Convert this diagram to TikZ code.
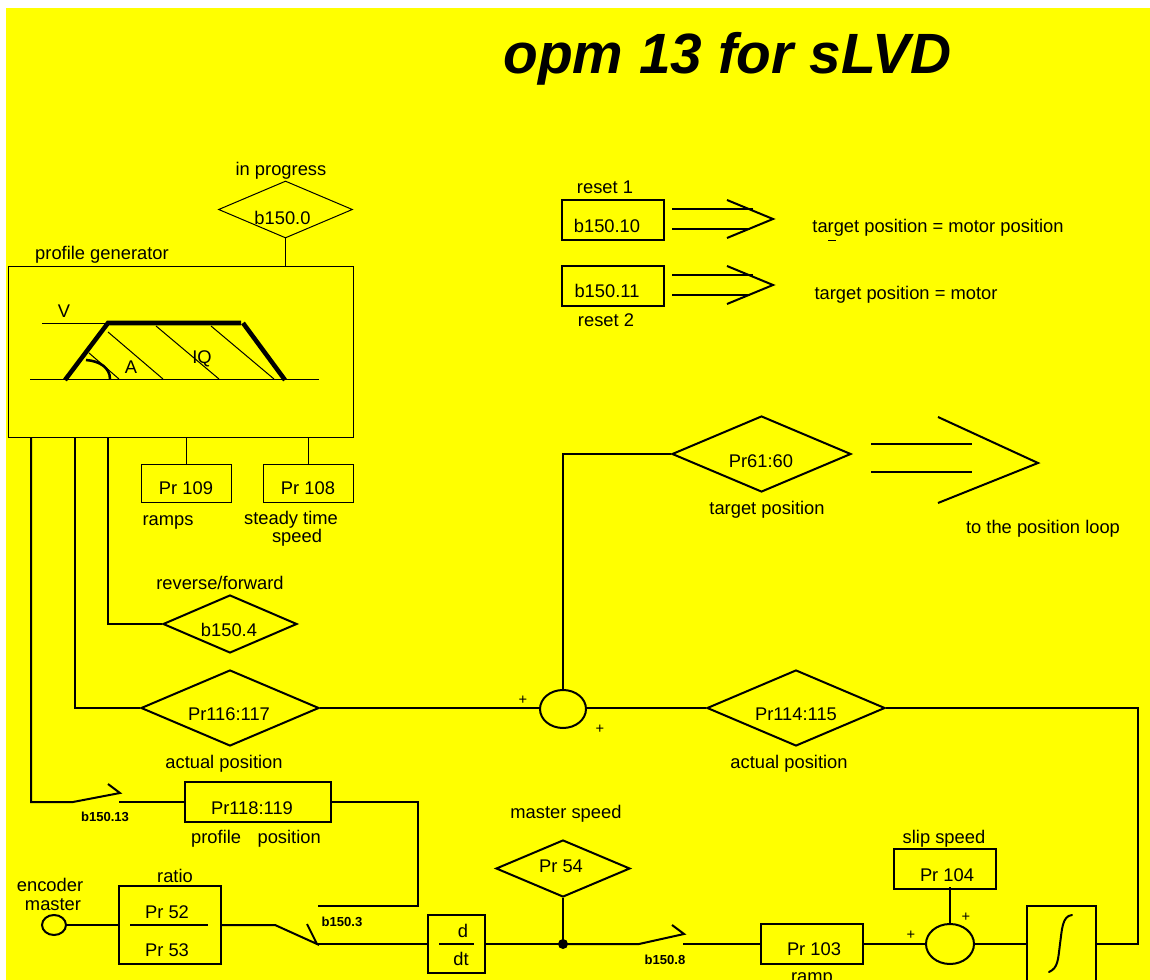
\documentclass[tikz,border=0pt]{standalone}
\usepackage{fontspec}
\setmainfont{Liberation Sans}
\usetikzlibrary{shapes.geometric}
\definecolor{bg}{RGB}{255,255,0}
\tikzset{
  thinln/.style={line width=0.75pt},
  ln/.style={line width=1.5pt},
  heavy/.style={line width=3.4pt},
  lbl/.style={inner sep=0pt,font=\fontsize{13.75}{16}\selectfont,text height=10.1pt,text depth=0pt,anchor=center},
  tiny/.style={inner sep=0pt,font=\fontsize{9.8}{11}\selectfont\bfseries,text height=5.8pt,text depth=0pt,anchor=center},
  plus/.style={inner sep=0pt,font=\fontsize{11}{12}\selectfont},
  bx/.style={draw,rectangle,inner sep=0pt,ln},
  tbx/.style={draw,rectangle,inner sep=0pt,thinln},
  dm/.style={draw,diamond,inner sep=0pt,ln},
  tdm/.style={draw,diamond,inner sep=0pt,thinln},
  sum/.style={draw,ellipse,inner sep=0pt,ln},
}
\begin{document}
\begin{tikzpicture}[x=0.75pt,y=-0.75pt,line join=miter]
\useasboundingbox (0,0) rectangle (1150,980);
\fill[bg] (6,8) rectangle (1150,980);
\begin{scope}
\clip (0,0) rectangle (1150,980);

% title
\node[inner sep=0pt,anchor=base,font=\fontsize{42.6}{46}\selectfont\bfseries\itshape] (title) at (727.5,74) {opm 13 for sLVD};

% profile generator
\node[tdm,minimum width=134pt*0.75,minimum height=57pt*0.75] (d0) at (285.5,209.5) {};
\node[lbl] (t0) at (281,169) {in progress};
\node[lbl] (t0b) at (282.5,218) {b150.0};
\node[tbx,minimum width=345pt*0.75,minimum height=171pt*0.75] (pg) at (181,352) {};
\node[lbl] (tpg) at (102,253) {profile generator};
\draw[thinln] (d0.south) -- (d0.south |- pg.north);

\coordinate (vl) at (42,323.5);
\coordinate (tl) at (108,323);
\coordinate (tr) at (241,323);
\coordinate (tr2) at (243,323);
\coordinate (bl) at (65,380);
\coordinate (br) at (285,380);
\coordinate (b0) at (30,379.5);
\coordinate (b1) at (319,379.5);
\draw[thinln] (vl) -- (tl |- vl);
\draw[thinln] (b0) -- (b1);
\draw[thinln] (89,353) -- (119,379);
\draw[thinln] (108,332) -- (163,379);
\draw[thinln] (156,326) -- (219,379);
\draw[thinln] (211,326) -- (274,379);
\draw[heavy] (bl) -- (tl) -- (tr);
\draw[heavy] (tr2) -- (br);
\draw[line width=1.9pt] (86,360) .. controls (100,361) and (110,368) .. (110,379);
\node[lbl] (tv) at (64,311) {V};
\node[lbl] (ta) at (131,367) {A};
\node[lbl] (tiq) at (202,357) {IQ};

% params below generator
\node[tbx,minimum width=90pt*0.75,minimum height=38pt*0.75] (p109) at (186.5,483.5) {};
\node[tbx,minimum width=90pt*0.75,minimum height=38pt*0.75] (p108) at (308.5,483.5) {};
\draw[thinln] (pg.south -| p109.north) -- (p109.north);
\draw[thinln] (pg.south -| p108.north) -- (p108.north);
\node[lbl] at (186,488) {Pr 109};
\node[lbl] at (308,488) {Pr 108};
\node[lbl] at (168,519) {ramps};
\node[lbl] at (291,518) {steady time};
\node[lbl] at (297,536) {speed};

% reverse/forward
\node[dm,minimum width=134pt*0.75,minimum height=58pt*0.75] (d4) at (230,624) {};
\node[lbl] at (229,630) {b150.4};
\node[lbl] at (220,583) {reverse/forward};
\draw[ln] (d4.west -| 108,0) coordinate (x108) (x108 |- pg.south) -- (x108) -- (d4.west);

% actual positions
\node[dm,minimum width=178pt*0.75,minimum height=76pt*0.75] (d116) at (230,708) {};
\node[lbl] at (229,714) {Pr116:117};
\node[lbl] at (224,762) {actual position};
\draw[ln] (75,0 |- pg.south) -- (75,708) coordinate (x75) -- (d116.west);
\node[dm,minimum width=178pt*0.75,minimum height=76pt*0.75] (d114) at (796,708) {};
\node[lbl] at (796,714) {Pr114:115};
\node[lbl] at (789,762) {actual position};
\node[sum,minimum width=46pt*0.75,minimum height=38pt*0.75] (s1) at (563,709) {};
\node[plus] at (523,700) {+};
\node[plus] at (600,729) {+};
\draw[ln] (d116.east) -- (s1.west |- d116.east);
\draw[ln] (s1.east |- d114.west) -- (d114.west);

% target position
\node[dm,minimum width=179pt*0.75,minimum height=76pt*0.75] (d61) at (761.5,454) {};
\node[lbl] at (761,461) {Pr61:60};
\node[lbl] at (767,508) {target position};
\node[lbl] at (1043,527) {to the position loop};
\draw[ln] (s1.north) -- (s1.north |- d61.west) -- (d61.west);
\draw[ln] (871,444) -- (972,444);
\draw[ln] (871,472) -- (972,472);
\draw[ln] (938,417) -- (1038,463) -- (938,503);

% resets
\node[bx,minimum width=102pt*0.75,minimum height=40pt*0.75] (r1) at (613,220) {};
\node[lbl] at (607,226) {b150.10};
\node[lbl] at (605,187) {reset 1};
\node[lbl] at (938,226) {target position = motor position};
\draw[ln] (672,209) -- (753,209);
\draw[ln] (672,229) -- (750,229);
\draw[ln] (727,200) -- (773,219) -- (727,238);
\draw[thinln] (828,241) -- (836,241);
\node[bx,minimum width=102pt*0.75,minimum height=40pt*0.75] (r2) at (613,286) {};
\node[lbl] at (607,291) {b150.11};
\node[lbl] at (606,320) {reset 2};
\node[lbl] at (906,293) {target position = motor};
\draw[ln] (672,275) -- (753,275);
\draw[ln] (672,295) -- (750,295);
\draw[ln] (727,266) -- (773,285) -- (727,304);

% profile position
\node[bx,minimum width=146pt*0.75,minimum height=40pt*0.75] (p118) at (258,802) {};
\node[lbl] at (252,808) {Pr118:119};
\node[lbl] at (256,837) {profile\hspace{0.9em}position};
\node[tiny] at (105,818) {b150.13};
\coordinate (sw1a) at (73,802);
\coordinate (sw1b) at (120,793);
\coordinate (sw1c) at (108,784);
\coordinate (sw1d) at (119,802);
\draw[ln] (31,0 |- pg.south) -- (31,802) -- (sw1a) -- (sw1b) -- (sw1c);
\draw[ln] (sw1d) -- (p118.west);
\coordinate (sw2top) at (318,906);
\draw[ln] (p118.east) -- (418,802) -- (418,906) -- (sw2top);
\node[tiny] at (342,923) {b150.3};

% encoder / ratio
\node[lbl] at (50,885) {encoder};
\node[lbl] at (53,904) {master};
\node[draw,ellipse,inner sep=0pt,ln,minimum width=24pt*0.75,minimum height=20pt*0.75] (enc) at (54,925) {};
\node[bx,minimum width=102pt*0.75,minimum height=78pt*0.75] (ratio) at (170,925) {};
\node[lbl] at (175,876) {ratio};
\node[lbl] at (167,912) {Pr 52};
\node[lbl] at (167,950) {Pr 53};
\draw[ln] (130,925) -- (208,925);
\draw[ln] (enc.east) -- (ratio.west);
\coordinate (sw2a) at (275,925);
\coordinate (sw2b) at (317,944);
\coordinate (sw2c) at (307,924);
\draw[ln] (ratio.east) -- (sw2a) -- (sw2b) -- (sw2c);

% d/dt
\node[bx,minimum width=57pt*0.75,minimum height=58pt*0.75] (ddt) at (456.5,944) {};
\node[lbl] at (463,931) {d};
\node[lbl] at (461,959) {dt};
\draw[ln] (439,944) -- (474,944);
\draw[ln] (sw2b) -- (ddt.west);

% master speed
\node[dm,minimum width=134pt*0.75,minimum height=57pt*0.75] (d54) at (563,868.5) {};
\node[lbl] at (561,866) {Pr 54};
\node[lbl] at (566,812) {master speed};
\coordinate (dot) at (563,944);
\coordinate (sw3a) at (639,944);
\coordinate (sw3b) at (684,934);
\coordinate (sw3c) at (672,925);
\coordinate (sw3d) at (683,944);
\draw[ln] (ddt.east |- dot) -- (dot);
\draw[ln] (dot) -- (sw3a) -- (sw3b) -- (sw3c);
\draw[ln] (d54.south) -- (dot);
\fill (dot) circle (5);
\node[tiny] at (665,961) {b150.8};

% ramp
\node[bx,minimum width=102pt*0.75,minimum height=40pt*0.75] (p103) at (812,944) {};
\node[lbl] at (812,976) {ramp};
\node[lbl] at (814,949) {Pr 103};
\draw[ln] (sw3d) -- (p103.west);

% slip speed
\node[sum,minimum width=48pt*0.75,minimum height=40pt*0.75] (s2) at (950,944) {};
\node[bx,minimum width=102pt*0.75,minimum height=40pt*0.75] (p104) at (945,869) {};
\node[lbl] at (947,875) {Pr 104};
\node[lbl] at (944,837) {slip speed};
\node[plus] at (911,935) {+};
\node[plus] at (966,917) {+};
\draw[ln] (s2.north) -- (s2.north |- 0,887);
\draw[ln] (p103.east) -- (s2.west);

% integrator
\node[bx,minimum width=69pt*0.75,minimum height=100pt*0.75] (int) at (1061.5,956) {};
\draw[ln] (s2.east) -- (int.west |- s2.east);
\draw[ln,line cap=round] (1072,915) .. controls (1062,916) and (1062,930) .. (1060,944) .. controls (1058,960) and (1058,968) .. (1049,972);
\draw[ln] (int.east |- s2.east) -- (1138,944) -- (1138,708) -- (d114.east);
\end{scope}
\end{tikzpicture}
\end{document}
